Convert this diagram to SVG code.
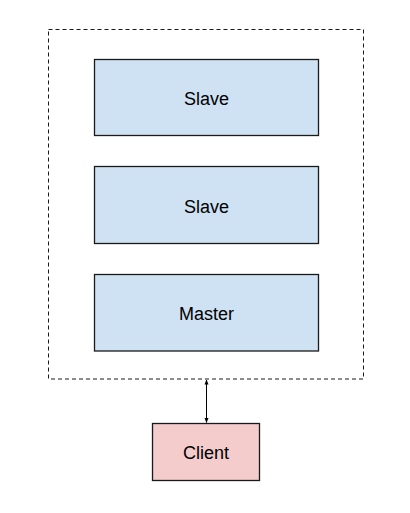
<svg xmlns="http://www.w3.org/2000/svg" width="410" height="513" viewBox="0 0 410 513">
<style>
.node{fill:#cfe2f3;stroke:#1a1a1a;stroke-width:1.3}
.client{fill:#f4cccc;stroke:#1a1a1a;stroke-width:1.3}
.lbl{font-family:"Liberation Sans",Arial,sans-serif;font-size:18px;fill:#000;text-anchor:middle}
.cluster{fill:none;stroke:#1a1a1a;stroke-width:1;stroke-dasharray:4,3}
.edge{stroke:#000;stroke-width:1}
</style>
<defs>
<marker id="ah" viewBox="0 0 10 10" refX="9" refY="5" markerWidth="5" markerHeight="5" orient="auto-start-reverse">
<path d="M0,1 L10,5 L0,9 Z" fill="#000"/>
</marker>
</defs>
<rect class="cluster" x="48.5" y="29.5" width="315" height="349.5"/>
<g id="slave1"><rect class="node" x="94.5" y="59.5" width="224" height="76"/><text class="lbl" x="206.5" y="105">Slave</text></g>
<g id="slave2"><rect class="node" x="94.5" y="166.5" width="224" height="77"/><text class="lbl" x="206.5" y="212.5">Slave</text></g>
<g id="master"><rect class="node" x="94.5" y="274.5" width="224" height="76.5"/><text class="lbl" x="206.5" y="320">Master</text></g>
<g id="client"><rect class="client" x="152.5" y="423.5" width="107" height="57"/><text class="lbl" x="206" y="459.3">Client</text></g>
<g id="connectors"><line class="edge" x1="206.5" y1="380" x2="206.5" y2="422.5" marker-start="url(#ah)" marker-end="url(#ah)"/></g>
</svg>
